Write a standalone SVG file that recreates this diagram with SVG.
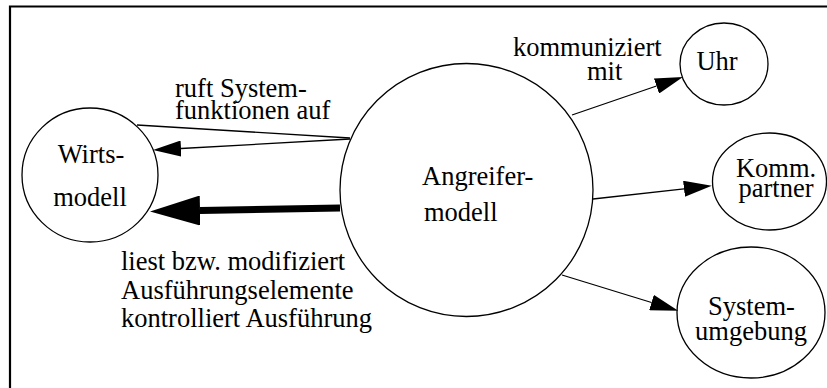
<svg xmlns="http://www.w3.org/2000/svg" width="827" height="388" viewBox="0 0 827 388">
<style>
.node{fill:#fff;stroke:#000;stroke-width:1.3}
.t{font-family:'Liberation Serif','Times New Roman',serif;font-size:26.5px;fill:#000}
.c{text-anchor:middle}
.edge{stroke:#000;stroke-width:1.3;fill:none}
.frame{stroke:#000;stroke-width:2.2;fill:none}
</style>
<defs>
<marker id="ah" markerUnits="userSpaceOnUse" markerWidth="28" markerHeight="16" refX="0" refY="8" orient="auto"><path d="M0,0 L28,8 L0,16 z" fill="#000"/></marker>
<marker id="ahb" markerUnits="userSpaceOnUse" markerWidth="50" markerHeight="30" refX="0" refY="15" orient="auto"><path d="M0,0 L50,15 L0,30 z" fill="#000"/></marker>
</defs>
<path class="frame" d="M10,388 L10,6.5 L827,6.5"/>
<g id="wirts">
<ellipse class="node" cx="90" cy="175" rx="68" ry="67"/>
<text class="t c" x="91" y="163">Wirts-</text>
<text class="t c" x="90" y="206">modell</text>
</g>
<g id="angreifer">
<circle class="node" cx="466.5" cy="190" r="126.5"/>
<text class="t" x="422" y="185">Angreifer-</text>
<text class="t" x="424" y="221">modell</text>
</g>
<g id="uhr">
<ellipse class="node" cx="724" cy="64" rx="44" ry="41"/>
<text class="t c" x="717" y="70">Uhr</text>
</g>
<g id="komm">
<ellipse class="node" cx="769.5" cy="181.5" rx="57" ry="48.5"/>
<text class="t c" x="776" y="177">Komm.</text>
<text class="t c" x="776" y="197">partner</text>
</g>
<g id="systemumgebung">
<ellipse class="node" cx="751" cy="312.5" rx="74" ry="65.5"/>
<text class="t c" x="751.5" y="315">System-</text>
<text class="t c" x="751" y="340">umgebung</text>
</g>
<g id="connectors">
<line class="edge" x1="350" y1="138" x2="137" y2="125"/>
<line class="edge" x1="350" y1="139" x2="181" y2="148.5" marker-end="url(#ah)"/>
<line x1="340" y1="208" x2="200" y2="210.5" stroke="#000" stroke-width="7" marker-end="url(#ahb)"/>
<line class="edge" x1="572" y1="115" x2="656.5" y2="86" marker-end="url(#ah)"/>
<line class="edge" x1="593" y1="199" x2="684" y2="188.8" marker-end="url(#ah)"/>
<line class="edge" x1="562" y1="275" x2="651.5" y2="302.5" marker-end="url(#ah)"/>
</g>
<g id="labels">
<text class="t" x="175" y="97">ruft System-</text>
<text class="t" x="175" y="119">funktionen auf</text>
<text class="t" x="513" y="56">kommuniziert</text>
<text class="t" x="587" y="80">mit</text>
<text class="t" x="121" y="270">liest bzw. modifiziert</text>
<text class="t" x="121" y="298.5">Ausführungselemente</text>
<text class="t" x="121" y="327">kontrolliert Ausführung</text>
</g>
</svg>
